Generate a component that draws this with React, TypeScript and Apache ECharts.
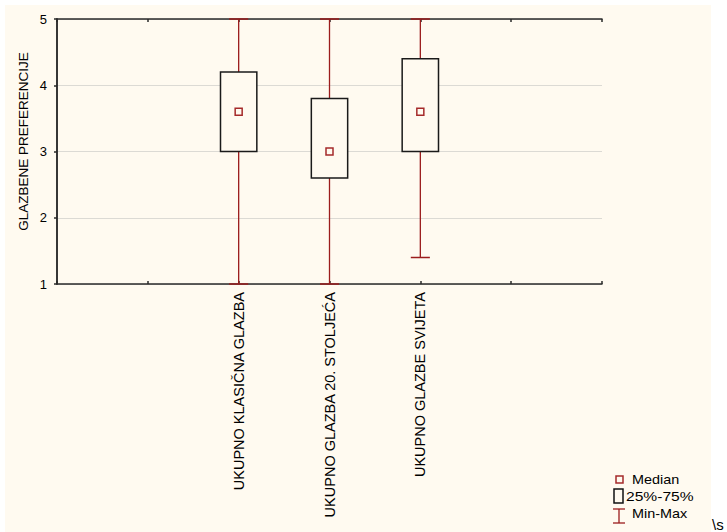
import React, { useEffect, useRef } from "react";
import * as echarts from "echarts";

const categories = ["UKUPNO KLASIČNA GLAZBA", "UKUPNO GLAZBA 20. STOLJEĆA", "UKUPNO GLAZBE SVIJETA"];
const positions = [2, 3, 4];
const minValues = [1, 1, 1.4];
const q1Values = [3, 2.6, 3];
const medianValues = [3.6, 3, 3.6];
const q3Values = [4.2, 3.8, 4.4];
const maxValues = [5, 5, 5];
const legendLabels = ["Median", "25%-75%", "Min-Max"];
const yTitle = "GLAZBENE PREFERENCIJE";

const RED = "#9b1c1c";
const FRAME = "#2a2a2a";
const BG = "#fffaf0";
const FONT = "Liberation Sans, Arial, sans-serif";

export default function App() {
  const ref = useRef<HTMLDivElement>(null);
  useEffect(() => {
    if (!ref.current) return;
    const chart = echarts.init(ref.current, null, { renderer: "svg" });
    const data = positions.map((p, i) => [p, minValues[i], q1Values[i], medianValues[i], q3Values[i], maxValues[i]]);

    const renderItem = (params: any, api: any) => {
      const x = api.value(0);
      const pMin = api.coord([x, api.value(1)]);
      const pQ1 = api.coord([x, api.value(2)]);
      const pMed = api.coord([x, api.value(3)]);
      const pQ3 = api.coord([x, api.value(4)]);
      const pMax = api.coord([x, api.value(5)]);
      const unit = api.size([1, 0])[0];
      const boxW = unit * 0.4;
      const capW = unit * 0.21;
      const cx = pMed[0];
      return {
        type: "group",
        children: [
          { type: "line", shape: { x1: cx, y1: pMin[1], x2: cx, y2: pMax[1] }, style: { stroke: RED, lineWidth: 1.3 } },
          { type: "line", shape: { x1: cx - capW / 2, y1: pMin[1], x2: cx + capW / 2, y2: pMin[1] }, style: { stroke: RED, lineWidth: 1.5 } },
          { type: "line", shape: { x1: cx - capW / 2, y1: pMax[1], x2: cx + capW / 2, y2: pMax[1] }, style: { stroke: RED, lineWidth: 1.5 } },
          { type: "rect", shape: { x: cx - boxW / 2, y: pQ3[1], width: boxW, height: pQ1[1] - pQ3[1] }, style: { fill: BG, stroke: "#1a1a1a", lineWidth: 1.5 } },
          { type: "rect", shape: { x: cx - 3.5, y: pMed[1] - 3.5, width: 7, height: 7 }, style: { fill: "none", stroke: "#a52a2a", lineWidth: 1.5 } },
        ],
      };
    };

    const axisLine = { show: true, lineStyle: { color: FRAME, width: 1.5 } };
    const xBase = { type: "value", min: 0, max: 6, interval: 1, splitLine: { show: false } };

    chart.setOption({
      animation: false,
      backgroundColor: BG,
      textStyle: { fontFamily: FONT },
      grid: { left: 57, right: 125, top: 19, bottom: 248, containLabel: false },
      xAxis: [
        {
          ...xBase,
          position: "bottom",
          axisLine,
          axisTick: { show: true, inside: true, length: 3, lineStyle: { color: FRAME, width: 1.5 } },
          axisLabel: {
            rotate: 90,
            margin: 8,
            fontSize: 14.5,
            color: "#000",
            fontFamily: FONT,
            formatter: (v: number) => {
              const i = positions.indexOf(v);
              return i >= 0 ? categories[i] : "";
            },
          },
        },
        {
          ...xBase,
          position: "top",
          axisLine,
          axisTick: { show: true, inside: true, length: 3, lineStyle: { color: FRAME, width: 1.5 } },
          axisLabel: { show: false },
        },
      ],
      yAxis: [
        {
          type: "value",
          min: 1,
          max: 5,
          interval: 1,
          position: "left",
          name: yTitle,
          nameLocation: "middle",
          nameRotate: 90,
          nameGap: 27,
          nameMoveOverlap: false,
          nameTextStyle: { fontSize: 13.5, color: "#000", fontFamily: FONT, padding: [0, 0, 0, 20] },
          axisLine,
          axisTick: { show: false },
          axisLabel: { margin: 10, fontSize: 13, color: "#000", fontFamily: FONT },
          splitLine: { show: true, lineStyle: { color: "#dcdad4", width: 1.2 } },
        },
        {
          type: "value",
          min: 1,
          max: 5,
          interval: 1,
          position: "right",
          axisLine,
          axisTick: { show: true, inside: true, length: 3, lineStyle: { color: FRAME, width: 1.5 } },
          axisLabel: { show: false },
          splitLine: { show: false },
        },
      ],
      graphic: [
        { type: "rect", shape: { x: 0, y: 0, width: 727, height: 5 }, style: { fill: "#ffffff" } },
        { type: "rect", shape: { x: 0, y: 0, width: 5, height: 532 }, style: { fill: "#ffffff" } },
        { type: "rect", shape: { x: 711, y: 0, width: 16, height: 532 }, style: { fill: "#ffffff" } },
        { type: "rect", shape: { x: 616, y: 476, width: 7, height: 7 }, style: { fill: "none", stroke: "#a52a2a", lineWidth: 1.5 } },
        { type: "text", x: 632, y: 480, scaleX: 1.2, style: { text: legendLabels[0], font: `12px ${FONT}`, fill: "#000", verticalAlign: "middle" } },
        { type: "rect", shape: { x: 614, y: 489, width: 9, height: 14 }, style: { fill: "none", stroke: "#111", lineWidth: 1.5 } },
        { type: "text", x: 626, y: 497, scaleX: 1.3, style: { text: legendLabels[1], font: `12px ${FONT}`, fill: "#000", verticalAlign: "middle" } },
        { type: "line", shape: { x1: 619, y1: 509, x2: 619, y2: 523 }, style: { stroke: RED, lineWidth: 1.3 } },
        { type: "line", shape: { x1: 613, y1: 509, x2: 625, y2: 509 }, style: { stroke: RED, lineWidth: 1.3 } },
        { type: "line", shape: { x1: 613, y1: 523, x2: 625, y2: 523 }, style: { stroke: RED, lineWidth: 1.3 } },
        { type: "text", x: 632, y: 514, scaleX: 1.2, style: { text: legendLabels[2], font: `12px ${FONT}`, fill: "#000", verticalAlign: "middle" } },
        { type: "text", x: 712, y: 524, style: { text: "\\s", font: `15px ${FONT}`, fill: "#000", verticalAlign: "middle" } },
      ],
      series: [
        {
          type: "custom",
          xAxisIndex: 0,
          yAxisIndex: 0,
          renderItem,
          data,
          encode: { x: 0, y: [1, 2, 3, 4, 5] },
          clip: false,
          z: 5,
        },
      ],
    });
    return () => chart.dispose();
  }, []);
  return <div ref={ref} style={{ width: 727, height: 532, position: "absolute", left: 0, top: 0 }} />;
}
